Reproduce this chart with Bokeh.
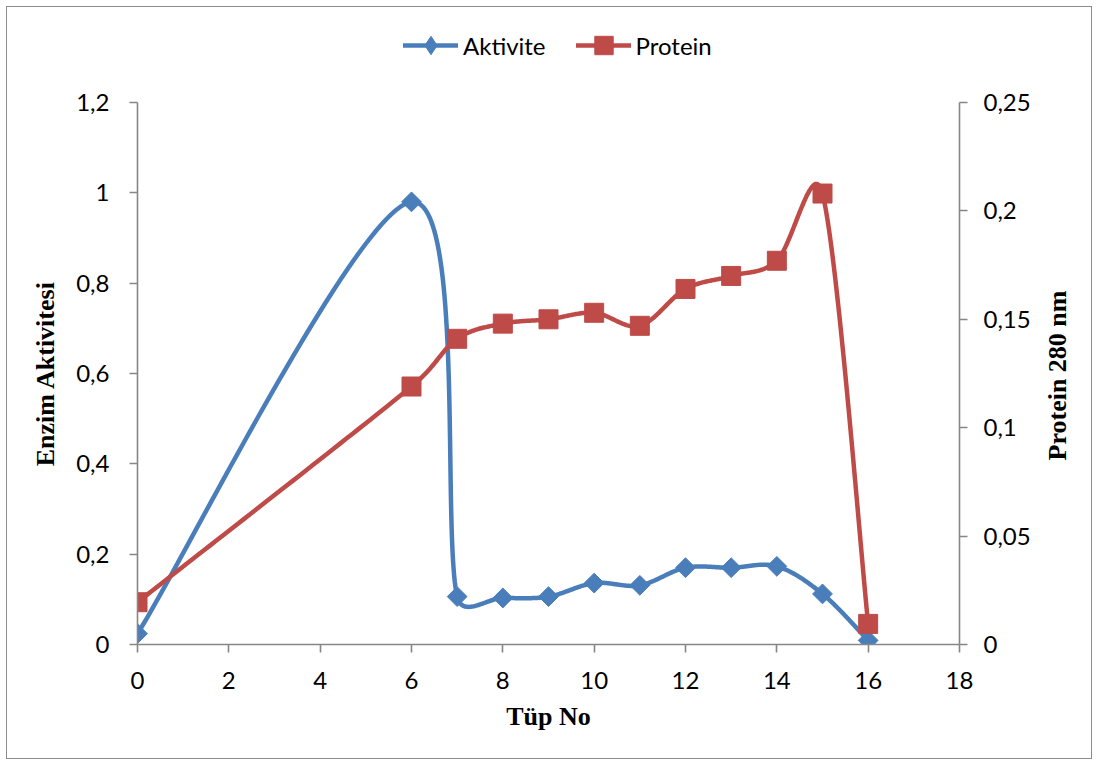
import math

from bokeh.embed import file_html
from bokeh.layouts import column, row
from bokeh.models import (CustomJSTickFormatter, FixedTicker, Label, Legend,
                          LegendItem, LinearAxis, Range1d)
from bokeh.plotting import figure
from bokeh.resources import INLINE

# ---- data -------------------------------------------------------------
tube_act = [0, 6, 7, 8, 9, 10, 11, 12, 13, 14, 15, 16]
aktivite = [0.024, 0.980, 0.106, 0.103, 0.106, 0.136, 0.131, 0.170, 0.170, 0.173, 0.112, 0.009]

tube_prot = [0, 6, 7, 8, 9, 10, 11, 12, 13, 14, 15, 16]
protein = [0.0195, 0.119, 0.141, 0.148, 0.150, 0.153, 0.147, 0.164, 0.170, 0.177, 0.208, 0.0095]

x_ticks = [0, 2, 4, 6, 8, 10, 12, 14, 16, 18]
left_ticks = [0, 0.2, 0.4, 0.6, 0.8, 1.0, 1.2]
right_ticks = [0, 0.05, 0.10, 0.15, 0.20, 0.25]

X_MAX, LEFT_MAX, RIGHT_MAX = 18, 1.2, 0.25

# ---- layout -----------------------------------------------------------
W, H = 1098, 765
LEGEND_H = 80                 # strip above the chart holding the legend
SIDE_W = 63                   # strip right of the chart holding the right-hand title
MAIN_W, MAIN_H = W - SIDE_W, H - LEGEND_H
B_LEFT, B_TOP, B_BOTTOM = 137, 102 - LEGEND_H, 121
B_RIGHT = MAIN_W - 959
FRAME_W = MAIN_W - B_LEFT - B_RIGHT
FRAME_H = MAIN_H - B_TOP - B_BOTTOM

BLUE = "#4A7EBB"
RED = "#BE4B48"
AXIS_GREY = "#868686"
TICK_FONT = "Lato"
TITLE_FONT = "Liberation Serif"


def smooth_curve(xs, ys, ymax, steps=48):
    """Bezier smoothing through every point (Catmull-Rom tangents,
    control arms capped at half the segment length), done in pixel space."""
    sx = FRAME_W / X_MAX
    sy = FRAME_H / ymax
    pts = [(x * sx, y * sy) for x, y in zip(xs, ys)]
    n = len(pts)
    out_x, out_y = [], []
    for i in range(n - 1):
        p0 = pts[i - 1] if i > 0 else pts[i]
        p1, p2 = pts[i], pts[i + 1]
        p3 = pts[i + 2] if i + 2 < n else pts[i + 1]
        seg = math.hypot(p2[0] - p1[0], p2[1] - p1[1])

        def arm(a, b):
            dx, dy = (b[0] - a[0]) / 6.0, (b[1] - a[1]) / 6.0
            ln = math.hypot(dx, dy)
            lim = seg / 2.0
            if ln > lim and ln > 0:
                dx, dy = dx * lim / ln, dy * lim / ln
            return dx, dy

        d1 = arm(p0, p2)
        d2 = arm(p1, p3)
        c1 = (p1[0] + d1[0], p1[1] + d1[1])
        c2 = (p2[0] - d2[0], p2[1] - d2[1])
        start = 0 if i == 0 else 1
        for k in range(start, steps + 1):
            t = k / steps
            a, b, c, d = (1 - t) ** 3, 3 * (1 - t) ** 2 * t, 3 * (1 - t) * t ** 2, t ** 3
            px = a * p1[0] + b * c1[0] + c * c2[0] + d * p2[0]
            py = a * p1[1] + b * c1[1] + c * c2[1] + d * p2[1]
            out_x.append(px / sx)
            out_y.append(py / sy)
    return out_x, out_y


def blank_figure(width, height):
    # ranges sit well away from the series, so only annotations show here
    f = figure(width=width, height=height, output_backend="svg", toolbar_location=None,
               x_range=Range1d(100, 101), y_range=Range1d(100, 101),
               x_axis_location=None, y_axis_location=None,
               min_border=0, background_fill_alpha=0, border_fill_alpha=0)
    f.outline_line_color = None
    f.grid.visible = False
    return f


# ---- main chart -------------------------------------------------------
p = figure(width=MAIN_W, height=MAIN_H, output_backend="svg", toolbar_location=None,
           x_range=Range1d(0, X_MAX), y_range=Range1d(0, LEFT_MAX),
           min_border_left=B_LEFT, min_border_right=B_RIGHT,
           min_border_top=B_TOP, min_border_bottom=B_BOTTOM,
           background_fill_color="white", border_fill_alpha=0)
p.outline_line_color = None
p.grid.visible = False
p.extra_y_ranges = {"protein": Range1d(0, RIGHT_MAX)}

comma_fmt = CustomJSTickFormatter(
    code="return String(Number(tick.toFixed(3))).replace('.', ',');")


def style_axis(ax, ticks):
    ax.ticker = FixedTicker(ticks=ticks)
    ax.formatter = comma_fmt
    ax.axis_line_color = AXIS_GREY
    ax.axis_line_width = 1.6
    ax.major_tick_line_color = AXIS_GREY
    ax.major_tick_line_width = 1.6
    ax.major_tick_in = 0
    ax.major_tick_out = 8
    ax.minor_tick_line_color = None
    ax.major_label_text_font = TICK_FONT
    ax.major_label_text_font_size = "24px"
    ax.major_label_text_color = "black"
    ax.axis_label_text_font = TITLE_FONT
    ax.axis_label_text_font_style = "bold"
    ax.axis_label_text_font_size = "26px"
    ax.axis_label_text_color = "black"


xax = p.xaxis[0]
style_axis(xax, x_ticks)
xax.axis_label = "Tüp No"
xax.major_label_standoff = 19
xax.axis_label_standoff = 10

yax = p.yaxis[0]
style_axis(yax, left_ticks)
yax.axis_label = "Enzim Aktivitesi"
yax.major_label_standoff = 20
yax.axis_label_standoff = 13

rax = LinearAxis(y_range_name="protein")
style_axis(rax, right_ticks)
rax.major_label_standoff = 16
p.add_layout(rax, "right")

ax_x, ax_y = smooth_curve(tube_act, aktivite, LEFT_MAX)
act_line = p.line(ax_x, ax_y, line_color=BLUE, line_width=4.5, line_join="round", line_cap="round")
act_pts = p.scatter(tube_act, aktivite, marker="square", angle=math.pi / 4, size=14,
                    fill_color=BLUE, line_color=BLUE)

pr_x, pr_y = smooth_curve(tube_prot, protein, RIGHT_MAX)
prot_line = p.line(pr_x, pr_y, line_color=RED, line_width=4.5, line_join="round", line_cap="round",
                   y_range_name="protein")
prot_pts = p.scatter(tube_prot, protein, marker="square", size=19,
                     fill_color=RED, line_color=RED, y_range_name="protein")

# ---- legend strip -----------------------------------------------------
# legend swatches come from copies of the two series, kept outside this strip's view
leg_fig = blank_figure(W, LEGEND_H)
k_line_a = leg_fig.line(tube_act, aktivite, line_color=BLUE, line_width=4.5, line_cap="round")
k_pt_a = leg_fig.scatter(tube_act, aktivite, marker="diamond", size=18,
                         fill_color=BLUE, line_color=BLUE)
k_line_p = leg_fig.line(tube_prot, protein, line_color=RED, line_width=4.5, line_cap="round")
k_pt_p = leg_fig.scatter(tube_prot, protein, marker="square", size=18,
                         fill_color=RED, line_color=RED)

legend = Legend(items=[LegendItem(label="Aktivite", renderers=[k_line_a, k_pt_a]),
                       LegendItem(label="Protein", renderers=[k_line_p, k_pt_p])],
                orientation="horizontal", location=(403, 12),
                padding=0, margin=0, spacing=30, label_standoff=5,
                glyph_width=55, glyph_height=46,
                label_text_font=TICK_FONT, label_text_font_size="24px",
                label_text_color="black",
                background_fill_alpha=0, border_line_color=None)
leg_fig.add_layout(legend, "center")

# ---- right-hand title strip ---------------------------------------------
# this strip's frame lines up with the chart's frame (y = 102 .. 644 on the page)
side_fig = blank_figure(SIDE_W, MAIN_H)
side_fig.add_layout(Label(x=1057 - MAIN_W, y=644 - 375,
                          x_units="screen", y_units="screen",
                          text="Protein 280 nm", angle=math.pi / 2,
                          text_align="center", text_baseline="middle",
                          text_font=TITLE_FONT, text_font_style="bold",
                          text_font_size="26px", text_color="black"))

page = column(leg_fig, row(p, side_fig, spacing=0), spacing=0,
              styles={"outline": "1.5px solid #8C8C8C", "outline-offset": "-7px",
                      "background-color": "white"})

open("out.html", "w").write(file_html(page, INLINE))
